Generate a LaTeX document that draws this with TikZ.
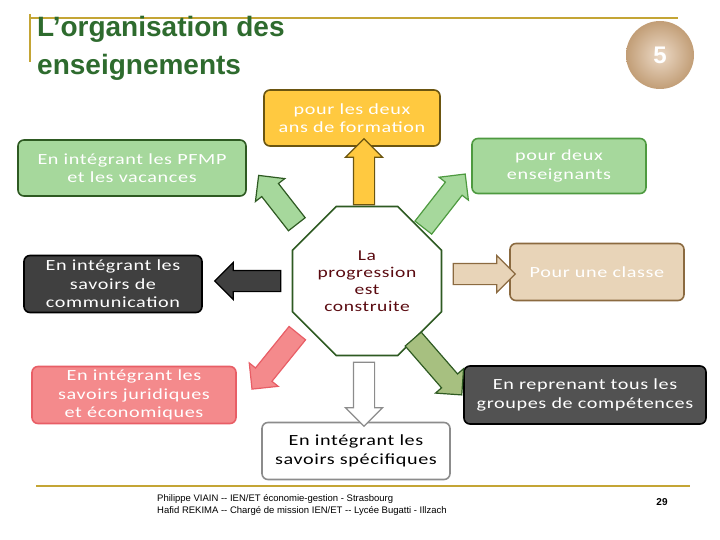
\documentclass[tikz,border=0pt]{standalone}
\usepackage{fontspec}
\setmainfont{Carlito}[FakeStretch=1.3,LetterSpace=4]
\newfontfamily\arialf{Liberation Sans}
\usetikzlibrary{shapes.arrows,shapes.geometric,shadows}
\definecolor{gold}{HTML}{C4A535}
\definecolor{tgreen}{HTML}{2E6B2E}
\definecolor{lgreen}{HTML}{A6D89C}
\definecolor{dgreen}{HTML}{2E5A22}
\definecolor{mgreen}{HTML}{4E9A40}
\definecolor{yel}{HTML}{FFC940}
\definecolor{olive}{HTML}{6B5510}
\definecolor{tan}{HTML}{E8D4B8}
\definecolor{brown}{HTML}{8B6A40}
\definecolor{pinkf}{HTML}{F48A8C}
\definecolor{pinkb}{HTML}{E85E66}
\definecolor{oliveg}{HTML}{A7C080}
\definecolor{darkred}{HTML}{5A0A10}
\definecolor{ballc}{HTML}{D9B48E}
\tikzset{
 box/.style={rounded corners=6pt, line width=1.6pt, align=center, inner sep=2pt,
   font=\fontsize{15.5}{18.5}\selectfont},
 barrow/.style={single arrow, line width=1.2pt, inner xsep=0pt, inner ysep=10pt,
   single arrow head extend=8pt, single arrow tip angle=90, anchor=center},
}
\begin{document}
\begin{tikzpicture}[x=1pt,y=-1pt]
\useasboundingbox (0,0) rectangle (720,540);
% header lines
\draw[gold,line width=2pt] (30,18) -- (678,18);
\draw[gold,line width=1.5pt] (30,14) -- (30,62);
\node[anchor=north west,inner sep=0,align=left,text=tgreen,font=\arialf\bfseries\fontsize{28}{38}\selectfont] (title) at (37,16) {L’organisation des\\enseignements};
\shade[inner color=ballc!50,outer color=ballc!70!brown] (660,55) circle (34);
\node[text=white,font=\arialf\bfseries\fontsize{24}{26}\selectfont] (num) at (660,55) {5};
% boxes
\node[box,fill=yel,draw=olive,text=white,minimum width=176pt,minimum height=56pt] (top) at (352,118) {pour les deux\\ans de formation};
\node[box,fill=lgreen,draw=dgreen,text=white,minimum width=228pt,minimum height=56pt] (pfmp) at (132,168) {En intégrant les PFMP\\et les vacances};
\node[box,fill=lgreen,draw=mgreen,text=white,minimum width=174pt,minimum height=55pt] (ens) at (559,166) {pour deux\\enseignants};
\node[box,fill=black!75,draw=black,text=white,minimum width=178pt,minimum height=57pt] (com) at (113,284) {En intégrant les\\savoirs de\\communication};
\node[regular polygon,regular polygon sides=8,draw=dgreen,line width=1.6pt,fill=white,minimum size=156pt,align=center,text=darkred,font=\fontsize{15}{17}\selectfont] (oct) at (367,281) {La\\progression\\est\\construite};
\node[box,fill=tan,draw=brown,text=white,minimum width=174pt,minimum height=57pt] (cls) at (597,272) {Pour une classe};
\node[box,fill=pinkf,draw=pinkb,text=white,minimum width=204pt,minimum height=57pt] (jur) at (134,395) {En intégrant les\\savoirs juridiques\\et économiques};
\node[box,fill=black!68,draw=black,text=white,minimum width=242pt,minimum height=58pt] (grp) at (585,395) {En reprenant tous les\\groupes de compétences};
\node[box,fill=white,draw=black!45,text=black,minimum width=188pt,minimum height=57pt] (spe) at (356,451) {En intégrant les\\savoirs spécifiques};
% arrows
\node[barrow,fill=yel,draw=olive,minimum height=66pt,rotate=90] (a1) at (364,177) {};
\node[barrow,fill=lgreen,draw=dgreen,minimum height=62pt,rotate=128] (a2) at (281,204) {};
\node[barrow,fill=lgreen,draw=mgreen,minimum height=68pt,rotate=52] (a3) at (441,205) {};
\node[barrow,fill=black!75,draw=black,minimum height=66pt,rotate=180] (a4) at (253,281) {};
\node[barrow,fill=tan,draw=brown,minimum height=62pt] (a5) at (479,274) {};
\node[barrow,fill=pinkf,draw=pinkb,minimum height=72pt,rotate=-129] (a6) at (278,357) {};
\node[barrow,fill=white,draw=black!45,minimum height=64pt,rotate=-90] (a7) at (364,389) {};
\node[barrow,fill=oliveg,draw=dgreen,minimum height=74pt,rotate=-49] (a8) at (434,363) {};
% footer
\draw[gold,line width=2pt] (36,486) -- (690,486);
\node[anchor=north west,align=left,inner sep=0,font=\arialf\fontsize{9.5}{12}\selectfont] (foot) at (157,494) {Philippe VIAIN -- IEN/ET économie-gestion - Strasbourg\\Hafid REKIMA -- Chargé de mission IEN/ET -- Lycée Bugatti - Illzach};
\node[font=\arialf\bfseries\fontsize{10}{12}\selectfont] (pg) at (662,502) {29};
\end{tikzpicture}
\end{document}
